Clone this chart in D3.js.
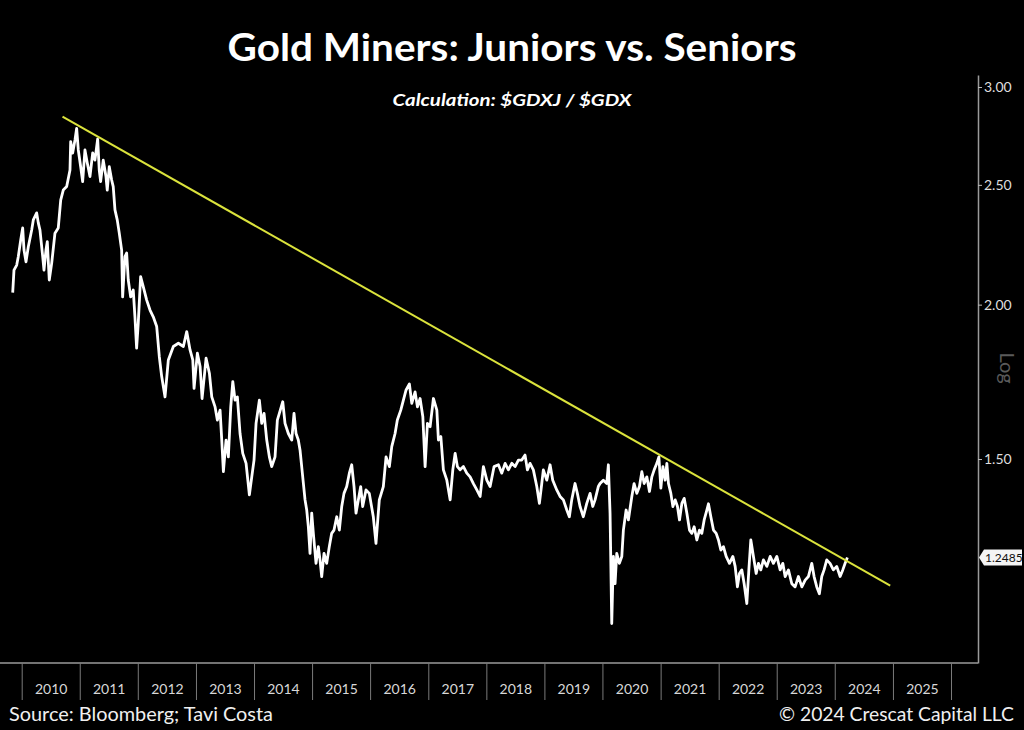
<!DOCTYPE html>
<html><head><meta charset="utf-8">
<script src="https://cdn.jsdelivr.net/npm/d3@7"></script>
<style>html,body{margin:0;padding:0;background:#000;} svg{display:block;}</style>
</head><body>
<svg id="chart" width="1024" height="730"></svg>
<script>
// ---- data (decimal years, ratio values) ----
const dates = [2009.845,2009.867,2009.914,2009.941,2009.983,2010.017,2010.040,2010.074,2010.114,2010.172,2010.200,2010.258,2010.286,2010.315,2010.362,2010.384,2010.418,2010.441,2010.475,2010.517,2010.573,2010.630,2010.672,2010.716,2010.775,2010.832,2010.844,2010.878,2010.918,2010.947,2010.975,2011.016,2011.050,2011.090,2011.130,2011.176,2011.223,2011.262,2011.309,2011.336,2011.360,2011.405,2011.452,2011.474,2011.509,2011.550,2011.577,2011.607,2011.646,2011.681,2011.722,2011.739,2011.779,2011.808,2011.836,2011.877,2011.922,2011.951,2011.980,2012.008,2012.049,2012.094,2012.153,2012.210,2012.266,2012.325,2012.370,2012.411,2012.468,2012.525,2012.611,2012.697,2012.783,2012.841,2012.898,2012.945,2012.967,2013.024,2013.071,2013.105,2013.174,2013.231,2013.272,2013.329,2013.368,2013.415,2013.444,2013.472,2013.518,2013.558,2013.599,2013.634,2013.673,2013.713,2013.759,2013.806,2013.863,2013.920,2013.961,2014.000,2014.035,2014.092,2014.133,2014.173,2014.219,2014.264,2014.305,2014.362,2014.402,2014.436,2014.495,2014.534,2014.591,2014.650,2014.689,2014.724,2014.763,2014.793,2014.839,2014.879,2014.908,2014.936,2014.965,2014.994,2015.022,2015.068,2015.108,2015.137,2015.166,2015.206,2015.252,2015.297,2015.338,2015.378,2015.425,2015.470,2015.511,2015.550,2015.597,2015.642,2015.683,2015.723,2015.757,2015.797,2015.838,2015.872,2015.929,2015.986,2016.055,2016.101,2016.158,2016.227,2016.274,2016.331,2016.372,2016.429,2016.468,2016.527,2016.572,2016.618,2016.675,2016.716,2016.773,2016.813,2016.859,2016.906,2016.945,2016.985,2017.031,2017.088,2017.147,2017.174,2017.216,2017.260,2017.319,2017.376,2017.422,2017.462,2017.501,2017.548,2017.605,2017.663,2017.720,2017.777,2017.836,2017.893,2017.949,2018.008,2018.065,2018.133,2018.208,2018.266,2018.323,2018.380,2018.438,2018.495,2018.552,2018.610,2018.667,2018.707,2018.753,2018.810,2018.869,2018.914,2018.955,2018.982,2019.041,2019.098,2019.144,2019.213,2019.270,2019.327,2019.386,2019.430,2019.471,2019.528,2019.568,2019.614,2019.671,2019.730,2019.787,2019.833,2019.873,2019.929,2019.959,2020.016,2020.074,2020.102,2020.131,2020.160,2020.188,2020.217,2020.246,2020.291,2020.333,2020.360,2020.407,2020.446,2020.505,2020.544,2020.591,2020.636,2020.677,2020.717,2020.763,2020.808,2020.849,2020.889,2020.935,2020.970,2021.004,2021.039,2021.078,2021.107,2021.135,2021.176,2021.211,2021.251,2021.290,2021.325,2021.366,2021.406,2021.452,2021.497,2021.538,2021.578,2021.624,2021.669,2021.710,2021.750,2021.796,2021.824,2021.865,2021.910,2021.957,2021.996,2022.037,2022.082,2022.129,2022.186,2022.244,2022.284,2022.323,2022.358,2022.399,2022.439,2022.485,2022.520,2022.554,2022.599,2022.646,2022.685,2022.726,2022.771,2022.830,2022.887,2022.943,2023.002,2023.059,2023.105,2023.145,2023.202,2023.260,2023.317,2023.374,2023.433,2023.490,2023.546,2023.604,2023.644,2023.690,2023.735,2023.776,2023.816,2023.862,2023.919,2023.976,2024.034,2024.092,2024.138,2024.178,2024.217];
const ratio = [2.045,2.133,2.153,2.187,2.256,2.307,2.214,2.166,2.228,2.298,2.342,2.373,2.329,2.298,2.187,2.133,2.214,2.249,2.094,2.161,2.285,2.307,2.430,2.476,2.492,2.570,2.710,2.653,2.718,2.778,2.668,2.586,2.515,2.668,2.604,2.539,2.653,2.618,2.723,2.570,2.515,2.618,2.539,2.476,2.586,2.523,2.492,2.386,2.342,2.285,2.214,2.029,2.187,2.202,2.094,2.029,2.055,1.955,1.844,1.932,2.107,2.068,2.017,1.980,1.955,1.920,1.815,1.749,1.684,1.804,1.850,1.861,1.850,1.902,1.838,1.804,1.711,1.827,1.782,1.679,1.810,1.760,1.684,1.653,1.613,1.643,1.554,1.465,1.554,1.506,1.653,1.733,1.674,1.684,1.573,1.516,1.488,1.403,1.451,1.497,1.603,1.674,1.603,1.633,1.554,1.506,1.479,1.506,1.613,1.633,1.669,1.603,1.573,1.554,1.633,1.573,1.554,1.525,1.451,1.390,1.364,1.322,1.258,1.356,1.306,1.235,1.274,1.243,1.205,1.258,1.235,1.274,1.306,1.314,1.347,1.314,1.373,1.407,1.425,1.461,1.484,1.425,1.356,1.390,1.425,1.373,1.416,1.407,1.347,1.282,1.390,1.425,1.506,1.479,1.535,1.573,1.613,1.643,1.674,1.706,1.725,1.664,1.700,1.653,1.679,1.623,1.479,1.603,1.593,1.679,1.643,1.554,1.564,1.470,1.442,1.390,1.470,1.516,1.479,1.470,1.479,1.461,1.451,1.433,1.416,1.399,1.479,1.442,1.425,1.479,1.484,1.461,1.488,1.470,1.488,1.479,1.497,1.497,1.511,1.470,1.488,1.470,1.425,1.381,1.433,1.470,1.442,1.484,1.442,1.416,1.399,1.390,1.364,1.347,1.390,1.433,1.407,1.373,1.347,1.381,1.407,1.373,1.390,1.425,1.433,1.442,1.433,1.484,1.356,1.104,1.251,1.189,1.258,1.235,1.251,1.314,1.364,1.339,1.399,1.433,1.407,1.425,1.465,1.433,1.451,1.412,1.451,1.470,1.488,1.506,1.421,1.479,1.442,1.488,1.433,1.407,1.373,1.390,1.373,1.339,1.381,1.394,1.356,1.314,1.306,1.322,1.290,1.314,1.306,1.339,1.364,1.380,1.347,1.314,1.306,1.290,1.266,1.274,1.251,1.235,1.251,1.228,1.182,1.212,1.220,1.189,1.146,1.220,1.290,1.251,1.212,1.235,1.220,1.243,1.228,1.251,1.235,1.251,1.220,1.235,1.205,1.220,1.189,1.182,1.205,1.182,1.197,1.205,1.235,1.205,1.182,1.167,1.205,1.220,1.243,1.235,1.220,1.228,1.205,1.220,1.235,1.2485];
const trendDates = [2010.703, 2024.953];
const trendValues = [2.839, 1.185];
const yearLabels = ["2010","2011","2012","2013","2014","2015","2016","2017","2018","2019","2020","2021","2022","2023","2024","2025"];
const yTicks = [1.5, 2.0, 2.5, 3.0];
const lastValue = 1.2485;
const titleText = "Gold Miners: Juniors vs. Seniors";
const subtitleText = "Calculation: $GDXJ / $GDX";
const sourceText = "Source: Bloomberg; Tavi Costa";
const copyrightText = "\u00A9 2024 Crescat Capital LLC";
const axisTitle = "Log";

// ---- helpers ----
function toDate(t){const y=Math.floor(t);const s=Date.UTC(y,0,1),e=Date.UTC(y+1,0,1);return new Date(s+(t-y)*(e-s));}
const series = dates.map((d,i)=>({date:toDate(d), value:ratio[i]})).filter(d=>d.value!=null);
const trend = trendDates.map((d,i)=>({date:toDate(d), value:trendValues[i]}));

const svg = d3.select("#chart");
svg.append("rect").attr("width",1024).attr("height",730).attr("fill","#000");

const plotTop = 75, plotBottom = 663, axisX = 978;
const x = d3.scaleUtc()
  .domain([new Date(Date.UTC(2010,0,1)), new Date(Date.UTC(2026,0,1))])
  .range([21.7, 951]);
const y = d3.scaleLog().domain([1.0257, 3.068]).range([plotBottom, plotTop]);

const font = "Lato, 'Open Sans', sans-serif";

// bottom frame line
svg.append("line").attr("x1",0).attr("x2",axisX).attr("y1",plotBottom).attr("y2",plotBottom)
  .attr("stroke","#9a9a9a").attr("stroke-width",1.5);

// year boundary ticks
const xTickAxis = d3.axisBottom(x)
  .tickValues(d3.range(2010,2027).map(yr=>new Date(Date.UTC(yr,0,1))))
  .tickSize(37).tickFormat("");
const gxt = svg.append("g").attr("transform",`translate(0,${plotBottom})`).call(xTickAxis);
gxt.select(".domain").remove();
gxt.selectAll(".tick line").attr("stroke","#7a7a7a").attr("stroke-width",1);

// year labels, centered in each year band
const xLabelAxis = d3.axisBottom(x)
  .tickValues(yearLabels.map(s=>new Date(Date.UTC(+s,6,2))))
  .tickSize(0).tickPadding(0)
  .tickFormat(d3.utcFormat("%Y"));
const gxl = svg.append("g").attr("transform",`translate(0,${plotBottom+26})`).call(xLabelAxis);
gxl.select(".domain").remove();
gxl.selectAll(".tick text").attr("fill","#d8d8d8").attr("font-family",font).attr("font-size",14).attr("dy","0.35em");

// right axis
const yAxis = d3.axisRight(y).tickValues(yTicks).tickFormat(d3.format(".2f")).tickSize(4).tickSizeOuter(0).tickPadding(2);
const gy = svg.append("g").attr("transform",`translate(${axisX},0)`).call(yAxis);
gy.select(".domain").attr("stroke","#9a9a9a").attr("stroke-width",1.5);
gy.selectAll(".tick line").attr("stroke","#bbb");
gy.selectAll(".tick text").attr("fill","#dedede").attr("font-family",font).attr("font-size",14);

// "Log" axis title
svg.append("text").attr("transform",`translate(1000,368) rotate(90)`)
  .attr("text-anchor","middle").attr("fill","#5a5a5a").attr("font-family",font).attr("font-size",20)
  .text(axisTitle);

// series line
const line = d3.line().x(d=>x(d.date)).y(d=>y(d.value));
svg.append("path").datum(series).attr("d",line)
  .attr("fill","none").attr("stroke","#fff").attr("stroke-width",2.8).attr("stroke-linejoin","round");

// trend line
svg.append("path").datum(trend).attr("d",line)
  .attr("fill","none").attr("stroke","#dbe33c").attr("stroke-width",2);

// last value label
const ly = y(lastValue);
const lbl = svg.append("g").attr("transform",`translate(${axisX},${ly})`);
lbl.append("path").attr("d","M1,0 L6,-8 L44,-8 L44,8 L6,8 Z").attr("fill","#f4f4f4");
lbl.append("text").attr("x",7).attr("y",0).attr("dy","0.35em").attr("fill","#111")
  .attr("font-family",font).attr("font-size",12).text(d3.format(".4f")(lastValue));

// titles
svg.append("text").attr("x",512).attr("y",61).attr("text-anchor","middle")
  .attr("fill","#fff").attr("font-family",font).attr("font-weight",700).attr("font-size",38)
  .attr("textLength",569).attr("lengthAdjust","spacingAndGlyphs").text(titleText);
svg.append("text").attr("x",512).attr("y",106).attr("text-anchor","middle")
  .attr("fill","#fff").attr("font-family",font).attr("font-weight",700).attr("font-style","italic").attr("font-size",17)
  .attr("textLength",239).attr("lengthAdjust","spacingAndGlyphs").text(subtitleText);

// footer
svg.append("text").attr("x",9).attr("y",721).attr("fill","#f0f0f0").attr("font-family",font).attr("font-size",20)
  .attr("textLength",264).attr("lengthAdjust","spacingAndGlyphs").text(sourceText);
svg.append("text").attr("x",1014).attr("y",721).attr("text-anchor","end").attr("fill","#f0f0f0").attr("font-family",font).attr("font-size",20)
  .attr("textLength",235).attr("lengthAdjust","spacingAndGlyphs").text(copyrightText);
</script>
</body></html>
